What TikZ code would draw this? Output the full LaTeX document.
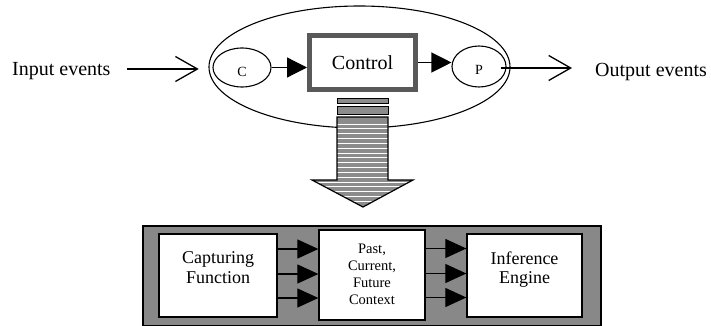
\documentclass[tikz,border=0pt]{standalone}
\usepackage{fontspec}
\setmainfont{Liberation Serif}
\usetikzlibrary{arrows.meta,shapes.geometric}

\definecolor{panelgray}{HTML}{888888}
\definecolor{arrowgray}{HTML}{8C8C8C}
\definecolor{framegray}{HTML}{595959}

\tikzset{
  bigfont/.style={font=\fontsize{20}{22}\selectfont},
  boxfont/.style={font=\fontsize{18}{19.5}\selectfont},
  smallfont/.style={font=\fontsize{14.5}{17}\selectfont},
  letterfont/.style={font=\fontsize{14}{16}\selectfont},
  stage/.style={ellipse, draw, line width=1.1pt, inner sep=0pt},
  whitebox/.style={rectangle, draw, fill=white, line width=1.3pt, inner sep=0pt},
  triarrow/.style={line width=1.2pt, -{Triangle[length=20pt,width=20pt]}},
  smalltri/.style={line width=1.2pt, -{Triangle[length=21pt,width=19pt]}},
  barbarrow/.style={line width=1.3pt, -{Straight Barb[length=22pt,width=25pt]}},
  caption/.style={inner sep=0pt, align=center, anchor=north},
}

\begin{document}
\begin{tikzpicture}[x=1pt,y=-1pt]
\useasboundingbox (0,0) rectangle (711,326);

% system ellipse with its capture, control and presentation stages
\node[stage, minimum width=301pt, minimum height=122pt] (sys) at (359.5,67) {};
\node[stage, minimum width=58pt, minimum height=39pt] (C) at (242,67.5) {};
\node[letterfont, inner sep=0pt] at ([yshift=-4.5pt]C.center) {C};
\node[stage, minimum width=54pt, minimum height=41pt] (P) at (479,66.5) {};
\node[letterfont, inner sep=0pt] at ([yshift=-3.5pt]P.center) {P};
\node[rectangle, draw=framegray, line width=5pt, fill=white,
      minimum width=106pt, minimum height=54pt, bigfont] (ctrl) at (362.5,62.5) {Control};

\draw[triarrow] (C.east) -- (C.east -| ctrl.west);
\draw[triarrow] (ctrl.east) -- (ctrl.east -| P.west);

% external events
\node[bigfont, inner sep=0pt, anchor=base west] (inlabel) at (12,76) {Input events};
\node[bigfont, inner sep=0pt, anchor=base west] (outlabel) at (595,76.5) {Output events};
\draw[barbarrow] ([xshift=16pt,yshift=7pt]inlabel.base east) -- ([xshift=88pt,yshift=7pt]inlabel.base east);
\draw[barbarrow] ([xshift=-6pt,yshift=-1.5pt]P.east) -- ([xshift=-23pt,yshift=8.5pt]outlabel.base west);

% striped refinement arrow
\draw[fill=arrowgray, line width=1pt] (337,99) rectangle (388,104);
\draw[fill=arrowgray, line width=1pt] (337,107) rectangle (388,114);
\begin{scope}
  \path[clip] (337,117) -- (388,117) -- (388,180) -- (413,180) -- (363,207)
              -- (312,180) -- (337,180) -- cycle;
  \fill[arrowgray] (300,110) rectangle (420,210);
  \foreach \k in {0,...,17} {
    \draw[white, line width=0.9pt] (300,124+4.83*\k) -- (420,124+4.83*\k);
  }
\end{scope}
\draw[line width=1.2pt, line join=miter] (337,117) -- (388,117) -- (388,180) -- (413,180)
      -- (363,207) -- (312,180) -- (337,180) -- cycle;

% context-aware processing chain
\node[rectangle, draw, fill=panelgray, line width=1.3pt, inner sep=0pt,
      minimum width=458pt, minimum height=99.5pt] (panel) at (372,275.75) {};
\node[whitebox, minimum width=118pt, minimum height=83pt] (capture) at (218,275.5) {};
\node[whitebox, minimum width=106pt, minimum height=90pt] (context) at (372,275) {};
\node[whitebox, minimum width=115pt, minimum height=83pt] (engine) at (524.5,275.5) {};

\node[caption, boxfont] at (capture.center |- 0,251.5) {Capturing\\Function};
\node[caption, smallfont] at (context.center |- 0,244) {Past,\\Current,\\Future\\Context};
\node[caption, boxfont] at (engine.center |- 0,251.5) {Inference\\Engine};

\foreach \dy in {26.5,1.5,-22.5} {
  \draw[smalltri] ([yshift=\dy pt]capture.east) -- ([yshift=\dy pt]capture.east -| context.west);
  \draw[smalltri] ([yshift=\dy pt]context.east) -- ([yshift=\dy pt]context.east -| engine.west);
}
\end{tikzpicture}
\end{document}
